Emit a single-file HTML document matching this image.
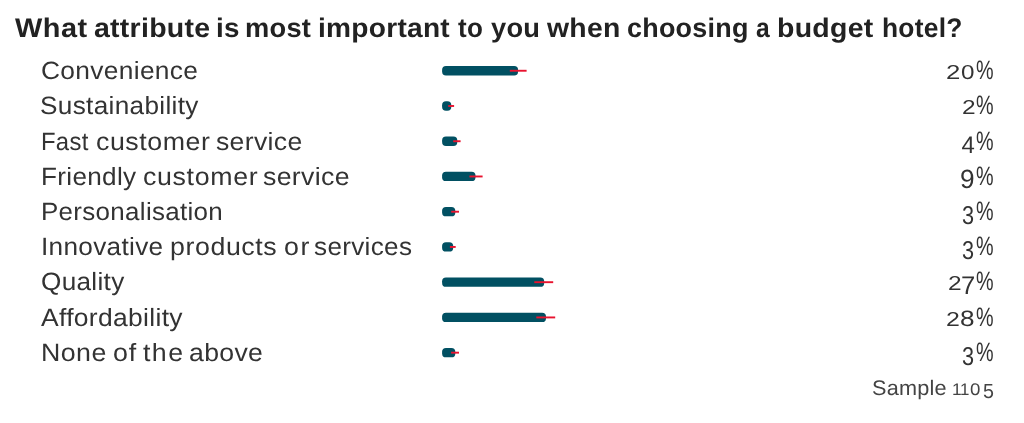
<!DOCTYPE html>
<html lang="en">
<head>
<meta charset="utf-8">
<title>What attribute is most important to you when choosing a budget hotel?</title>
<style>
html,body{margin:0;padding:0;background:#fff}
body{width:1024px;height:423px;position:relative;overflow:hidden;font-family:"Liberation Sans",sans-serif}
#chart{position:absolute;left:0;top:0;width:1024px;height:423px;background:#fff;line-height:30px;text-rendering:geometricPrecision}
#chart span{position:absolute;display:block;white-space:pre;transform-origin:0 0}
h1{margin:0;font-size:27px;font-weight:700;line-height:30px;color:#222222}
.row{font-size:25px;font-weight:400;color:#333333}
.note{font-size:21px;color:#444444}
svg{position:absolute;left:0;top:0}
</style>
</head>
<body>
<div id="chart">
<h1>
<span style="left:14.9px;top:13px;letter-spacing:0.482px;transform:scaleX(1.070);">What</span> <span style="left:94.11px;top:13px;letter-spacing:0.25px;transform:scaleX(1.055);">attribute</span> <span style="left:216.44px;top:13px;letter-spacing:0.25px;transform:scaleX(1.028);">is</span> <span style="left:245.13px;top:13px;letter-spacing:0.25px;transform:scaleX(1.010);">most</span> <span style="left:318.22px;top:13px;letter-spacing:0.25px;transform:scaleX(1.041);">important</span> <span style="left:458.46px;top:13px;letter-spacing:0.25px;transform:scaleX(0.963);">to</span> <span style="left:490.95px;top:13px;letter-spacing:0.25px;transform:scaleX(1.009);">you</span> <span style="left:547.1px;top:13px;letter-spacing:0.25px;transform:scaleX(1.051);">when</span> <span style="left:626.8px;top:13px;letter-spacing:0.25px;transform:scaleX(0.997);">choosing</span> <span style="left:756.02px;top:13px;transform:scaleX(0.910);">a</span> <span style="left:777.05px;top:13px;letter-spacing:0.25px;transform:scaleX(1.055);">budget</span> <span style="left:881.55px;top:13px;letter-spacing:0.25px;transform:scaleX(0.977);">hotel?</span>
</h1>
<div class="row">
<span style="left:40.88px;top:56px;letter-spacing:0.3px;transform:scaleX(1.054);">Convenience</span>
<span style="left:945.92px;top:58px;font-size:20.2px;transform:scaleX(1.276);">2</span><span style="left:960.5px;top:58px;font-size:20.2px;transform:scaleX(1.200);">0</span><span style="left:975.96px;top:55px;font-size:26.7px;transform:scaleX(0.740);">%</span>
</div>
<div class="row">
<span style="left:40.49px;top:91px;letter-spacing:0.3px;transform:scaleX(1.047);">Sustainability</span>
<span style="left:961.59px;top:93px;font-size:20.2px;transform:scaleX(1.211);">2</span><span style="left:975.96px;top:90px;font-size:26.7px;transform:scaleX(0.740);">%</span>
</div>
<div class="row">
<span style="left:41.29px;top:127px;letter-spacing:0.3px;transform:scaleX(0.955);">Fast</span> <span style="left:96.13px;top:127px;letter-spacing:0.52px;transform:scaleX(1.070);">customer</span> <span style="left:216.4px;top:127px;letter-spacing:0.3px;transform:scaleX(1.064);">service</span>
<span style="left:961.5px;top:131px;font-size:23.9px;transform:scaleX(1.000);">4</span><span style="left:975.96px;top:126px;font-size:26.7px;transform:scaleX(0.740);">%</span>
</div>
<div class="row">
<span style="left:41.11px;top:162px;letter-spacing:0.3px;transform:scaleX(1.045);">Friendly</span> <span style="left:143.03px;top:162px;letter-spacing:0.613px;transform:scaleX(1.070);">customer</span> <span style="left:263.1px;top:162px;letter-spacing:0.3px;transform:scaleX(1.068);">service</span>
<span style="left:960.37px;top:164px;font-size:26.5px;transform:scaleX(0.988);">9</span><span style="left:975.96px;top:161px;font-size:26.7px;transform:scaleX(0.740);">%</span>
</div>
<div class="row">
<span style="left:41.02px;top:197px;letter-spacing:0.3px;transform:scaleX(1.038);">Personalisation</span>
<span style="left:961.96px;top:201px;font-size:25.8px;transform:scaleX(0.841);">3</span><span style="left:975.96px;top:196px;font-size:26.7px;transform:scaleX(0.740);">%</span>
</div>
<div class="row">
<span style="left:40.84px;top:232px;letter-spacing:0.3px;transform:scaleX(1.047);">Innovative</span> <span style="left:169.63px;top:232px;letter-spacing:0.55px;transform:scaleX(1.070);">products</span> <span style="left:283.68px;top:232px;letter-spacing:1.493px;transform:scaleX(1.070);">or</span> <span style="left:314.22px;top:232px;letter-spacing:0.3px;transform:scaleX(1.045);">services</span>
<span style="left:961.96px;top:236px;font-size:25.8px;transform:scaleX(0.841);">3</span><span style="left:975.96px;top:231px;font-size:26.7px;transform:scaleX(0.740);">%</span>
</div>
<div class="row">
<span style="left:40.99px;top:267px;letter-spacing:0.3px;transform:scaleX(1.046);">Quality</span>
<span style="left:947.79px;top:269px;font-size:20.2px;transform:scaleX(1.211);">2</span><span style="left:960.94px;top:271px;font-size:25.5px;transform:scaleX(1.004);">7</span><span style="left:975.96px;top:266px;font-size:26.7px;transform:scaleX(0.740);">%</span>
</div>
<div class="row">
<span style="left:41.1px;top:303px;letter-spacing:0.3px;transform:scaleX(1.058);">Affordability</span>
<span style="left:946.37px;top:305px;font-size:20.2px;transform:scaleX(1.232);">2</span><span style="left:960.23px;top:304px;font-size:22.3px;transform:scaleX(1.171);">8</span><span style="left:975.96px;top:302px;font-size:26.7px;transform:scaleX(0.740);">%</span>
</div>
<div class="row">
<span style="left:41.06px;top:338px;letter-spacing:0.429px;transform:scaleX(1.070);">None</span> <span style="left:113.18px;top:338px;letter-spacing:0.811px;transform:scaleX(1.070);">of</span> <span style="left:142.56px;top:338px;letter-spacing:1.319px;transform:scaleX(1.070);">the</span> <span style="left:188.69px;top:338px;letter-spacing:0.3px;transform:scaleX(1.065);">above</span>
<span style="left:961.96px;top:342px;font-size:25.8px;transform:scaleX(0.841);">3</span><span style="left:975.96px;top:337px;font-size:26.7px;transform:scaleX(0.740);">%</span>
</div>
<div class="note">
<span style="left:872.27px;top:374px;letter-spacing:0.2px;transform:scaleX(1.032);">Sample</span> <span style="left:951.51px;top:375px;font-size:16.8px;transform:scaleX(1.034);">1</span><span style="left:960.44px;top:375px;font-size:16.8px;transform:scaleX(1.007);">1</span><span style="left:969.97px;top:375px;font-size:16.8px;transform:scaleX(1.113);">0</span><span style="left:982.94px;top:377px;font-size:20.5px;transform:scaleX(0.958);">5</span>
</div>
<svg width="1024" height="423" viewBox="0 0 1024 423">
<rect x="442.1" y="66" width="76" height="9.4" rx="3.9" ry="3.9" fill="#015062"/>
<rect x="509.8" y="69.8" width="16.8" height="1.9" fill="#e8132f"/>
<rect x="442.1" y="101.24" width="9.2" height="9.4" rx="3.9" ry="3.9" fill="#015062"/>
<rect x="448.2" y="105.04" width="5.9" height="1.9" fill="#e8132f"/>
<rect x="442.1" y="136.48" width="15.2" height="9.4" rx="3.9" ry="3.9" fill="#015062"/>
<rect x="453.2" y="140.28" width="7.4" height="1.9" fill="#e8132f"/>
<rect x="442.1" y="171.72" width="33.4" height="9.4" rx="3.9" ry="3.9" fill="#015062"/>
<rect x="469.4" y="175.52" width="13.2" height="1.9" fill="#e8132f"/>
<rect x="442.1" y="206.96" width="13.2" height="9.4" rx="3.9" ry="3.9" fill="#015062"/>
<rect x="451.2" y="210.76" width="7.8" height="1.9" fill="#e8132f"/>
<rect x="442.1" y="242.2" width="11.1" height="9.4" rx="3.9" ry="3.9" fill="#015062"/>
<rect x="449.9" y="246" width="5.8" height="1.9" fill="#e8132f"/>
<rect x="442.1" y="277.44" width="102.1" height="9.4" rx="3.9" ry="3.9" fill="#015062"/>
<rect x="534.3" y="281.24" width="18.9" height="1.9" fill="#e8132f"/>
<rect x="442.1" y="312.68" width="103.9" height="9.4" rx="3.9" ry="3.9" fill="#015062"/>
<rect x="536.3" y="316.48" width="18.9" height="1.9" fill="#e8132f"/>
<rect x="442.1" y="347.92" width="13.2" height="9.4" rx="3.9" ry="3.9" fill="#015062"/>
<rect x="451.1" y="351.72" width="7.9" height="1.9" fill="#e8132f"/>
</svg>
</div>
</body>
</html>
